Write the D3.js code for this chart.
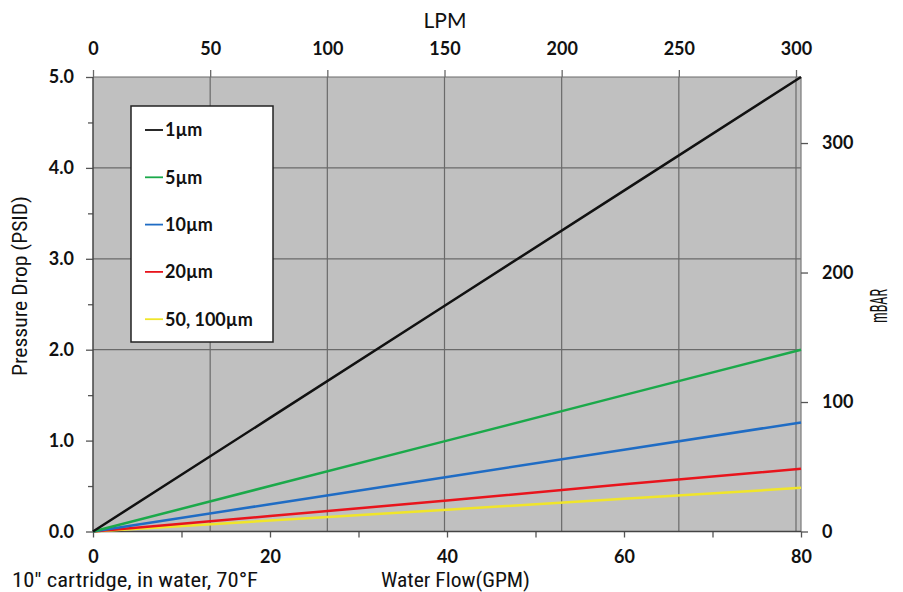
<!DOCTYPE html>
<html>
<head>
<meta charset="utf-8">
<script src="https://cdn.jsdelivr.net/npm/d3@7"></script>
<style>
  body { margin: 0; background: #fff; }
  svg { display: block; }
  .tick text { font-family: Lato, "Open Sans", sans-serif; font-weight: 700; font-size: 18px; fill: #111; }
  .title { font-family: "Liberation Sans Narrow", "Roboto Condensed", Roboto, sans-serif; font-size: 21px; fill: #111; }
</style>
</head>
<body>
<div id="chart"></div>
<script>
// data, GPM vs pressure drop (PSID)
var flowGpm = [0, 20, 40, 60, 80];
var drop1 = [0, 1.25, 2.5, 3.75, 5.0];
var drop5 = [0, 0.5, 1.0, 1.5, 2.0];
var drop10 = [0, 0.3, 0.6, 0.9, 1.2];
var drop20 = [0, 0.17, 0.34, 0.52, 0.69];
var drop50 = [0, 0.12, 0.24, 0.36, 0.48];

var seriesNames = ["1\u00b5m", "5\u00b5m", "10\u00b5m", "20\u00b5m", "50, 100\u00b5m"];
var seriesColors = ["#111111", "#1ba94a", "#1f6cc4", "#e8141c", "#f0e52a"];
var seriesData = [drop1, drop5, drop10, drop20, drop50];

var gpmTicks = [0, 10, 20, 30, 40, 50, 60, 70, 80];
var lpmTicks = [0, 50, 100, 150, 200, 250, 300];
var psiTicks = [0, 1, 2, 3, 4, 5];
var psiMinor = [0.5, 1.5, 2.5, 3.5, 4.5];
var psiGrid = [2, 3, 4, 5];
var barTicks = [0, 100, 200, 300];

var W = 903, H = 592;
var plotL = 93, plotR = 801, plotT = 77, plotB = 531.5;

var svg = d3.select("#chart").append("svg")
    .attr("width", W)
    .attr("height", H);

var x = d3.scaleLinear().domain([0, 80]).range([plotL, plotR]);
var xLpm = d3.scaleLinear().domain([0, 300]).range([plotL, 796]);
var y = d3.scaleLinear().domain([0, 5]).range([plotB, plotT]);
var yBar = d3.scaleLinear().domain([0, 351]).range([plotB, plotT]);

//plot background
svg.append("rect")
    .attr("x", plotL)
    .attr("y", plotT)
    .attr("width", plotR - plotL)
    .attr("height", plotB - plotT)
    .attr("fill", "#c0c0c0");

//grid lines
svg.append("g").selectAll("line")
    .data(psiGrid)
    .enter()
    .append("line")
    .attr("x1", plotL).attr("x2", plotR)
    .attr("y1", function (d) { return y(d) }).attr("y2", function (d) { return y(d) })
    .attr("stroke", "#6a6a6a")
    .attr("stroke-width", 1.2);

svg.append("g").selectAll("line")
    .data(lpmTicks.slice(1))
    .enter()
    .append("line")
    .attr("x1", function (d) { return xLpm(d) }).attr("x2", function (d) { return xLpm(d) })
    .attr("y1", plotT).attr("y2", plotB)
    .attr("stroke", "#6a6a6a")
    .attr("stroke-width", 1.2);

svg.append("line")
    .attr("x1", plotR).attr("x2", plotR)
    .attr("y1", plotT).attr("y2", plotB)
    .attr("stroke", "#7a7a7a")
    .attr("stroke-width", 1.2);

//axes
function styleAxis(g) {
    g.select(".domain").remove();
    g.selectAll(".tick line").attr("stroke", "#555").attr("stroke-width", 1.3);
}

svg.append("g")
    .attr("transform", "translate(" + plotL + ",0)")
    .call(d3.axisLeft(y).tickValues(psiTicks).tickSize(7).tickPadding(12).tickFormat(d3.format(".1f")))
    .call(styleAxis);

svg.append("g")
    .attr("transform", "translate(" + plotL + ",0)")
    .call(d3.axisLeft(y).tickValues(psiMinor).tickSize(5).tickFormat(""))
    .call(styleAxis);

svg.append("g")
    .attr("transform", "translate(0," + plotB + ")")
    .call(d3.axisBottom(x).tickValues(gpmTicks).tickSize(6).tickPadding(13)
        .tickFormat(function (d) { return d % 20 === 0 ? d : "" }))
    .call(styleAxis);

svg.append("g")
    .attr("transform", "translate(0," + plotT + ")")
    .call(d3.axisTop(xLpm).tickValues(lpmTicks).tickSize(7).tickPadding(15))
    .call(styleAxis)
    .selectAll(".tick line").attr("stroke", "#6a6a6a");

svg.append("g")
    .attr("transform", "translate(" + plotR + ",0)")
    .call(d3.axisRight(yBar).tickValues(barTicks).tickSize(7).tickPadding(14))
    .call(styleAxis);

//axis lines on left and bottom
svg.append("line")
    .attr("x1", plotL).attr("x2", plotL).attr("y1", plotT).attr("y2", plotB)
    .attr("stroke", "#444").attr("stroke-width", 1.5);
svg.append("line")
    .attr("x1", plotL).attr("x2", plotR).attr("y1", plotB).attr("y2", plotB)
    .attr("stroke", "#444").attr("stroke-width", 1.5);

//series lines
var line = d3.line()
    .x(function (d, i) { return x(flowGpm[i]) })
    .y(function (d) { return y(d) });

svg.append("g").selectAll("path")
    .data(seriesData.slice().reverse())
    .enter()
    .append("path")
    .attr("d", function (d) { return line(d) })
    .attr("fill", "none")
    .attr("stroke", function (d, i) { return seriesColors[seriesColors.length - 1 - i] })
    .attr("stroke-width", 2.5);

//legend
var legend = svg.append("g");
legend.append("rect")
    .attr("x", 131).attr("y", 106)
    .attr("width", 142).attr("height", 236)
    .attr("fill", "#fff")
    .attr("stroke", "#222")
    .attr("stroke-width", 1.5);

var item = legend.selectAll("g")
    .data(seriesNames)
    .enter()
    .append("g")
    .attr("transform", function (d, i) { return "translate(0," + (130 + i * 47.3) + ")" });

item.append("line")
    .attr("x1", 145).attr("x2", 163)
    .attr("stroke", function (d, i) { return seriesColors[i] })
    .attr("stroke-width", 1.8);

item.append("text")
    .attr("x", 165)
    .attr("dy", "0.35em")
    .style("font-family", "Lato, sans-serif")
    .style("font-weight", 700)
    .style("font-size", "18px")
    .attr("fill", "#111")
    .text(function (d) { return d });

//titles
svg.append("text")
    .attr("x", 445).attr("y", 28)
    .attr("text-anchor", "middle")
    .style("font-family", "Lato, sans-serif")
    .style("font-size", "21px")
    .attr("fill", "#111")
    .text("LPM");

svg.append("text")
    .attr("class", "title")
    .attr("x", 381).attr("y", 587)
    .attr("textLength", 149)
    .attr("lengthAdjust", "spacingAndGlyphs")
    .text("Water Flow(GPM)");

svg.append("text")
    .attr("class", "title")
    .attr("x", 12).attr("y", 587)
    .attr("textLength", 246)
    .attr("lengthAdjust", "spacingAndGlyphs")
    .text("10\" cartridge, in water, 70\u00b0F");

svg.append("text")
    .attr("class", "title")
    .attr("transform", "translate(27,376) rotate(-90)")
    .attr("textLength", 180)
    .attr("lengthAdjust", "spacingAndGlyphs")
    .text("Pressure Drop (PSID)");

svg.append("text")
    .attr("class", "title")
    .style("font-size", "23px")
    .attr("transform", "translate(887,323) rotate(-90)")
    .attr("textLength", 34)
    .attr("lengthAdjust", "spacingAndGlyphs")
    .text("mBAR");
</script>
</body>
</html>
